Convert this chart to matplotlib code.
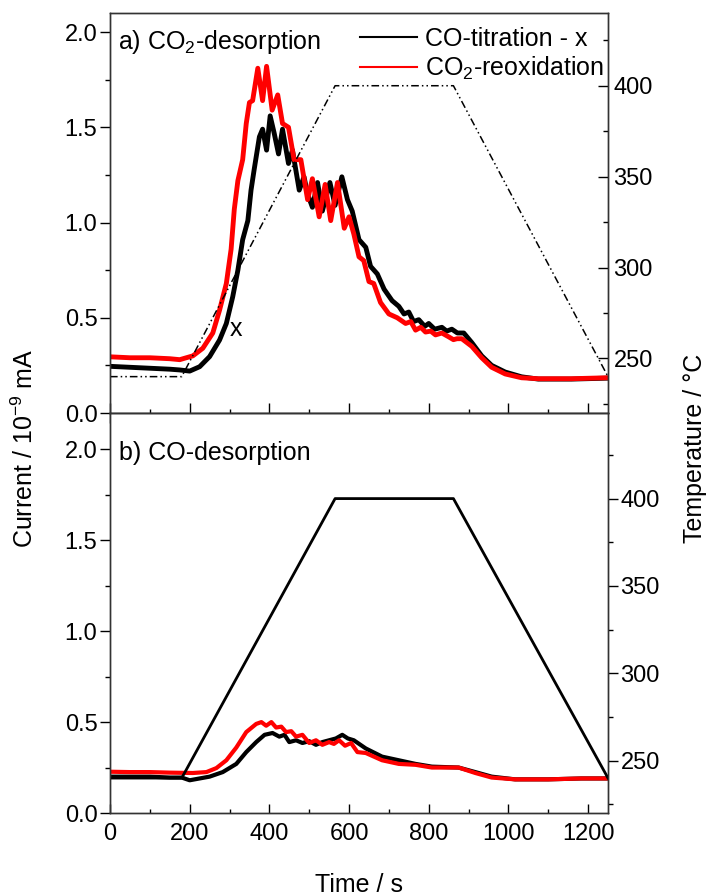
import matplotlib
matplotlib.use("Agg")
import matplotlib.pyplot as plt
from matplotlib.lines import Line2D
from matplotlib.ticker import MultipleLocator

plt.rcParams['font.family'] = ['Liberation Sans', 'DejaVu Sans']
plt.rcParams['mathtext.fontset'] = 'custom'
plt.rcParams['mathtext.rm'] = 'Liberation Sans'
plt.rcParams['mathtext.it'] = 'Liberation Sans:italic'

# temperature program (same in both panels)
t_temp = [0, 180, 565, 862, 1250]
temp = [240, 240, 400, 400, 240]

# a) CO2-desorption, CO-titration - x (black)
t_co_a = [0, 50, 100, 150, 175, 200, 225, 250, 275, 292, 308, 321, 333, 346, 354, 362,
          375, 383, 393, 402, 412, 423, 433, 448, 458, 475, 487, 496, 508, 521, 533, 552,
          565, 582, 596, 608, 625, 642, 654, 671, 688, 708, 725, 738, 750, 762, 775, 790,
          800, 815, 833, 845, 858, 872, 888, 908, 933, 958, 992, 1033, 1075, 1158, 1250]
i_co_a = [0.245, 0.24, 0.235, 0.23, 0.226, 0.22, 0.243, 0.296, 0.383, 0.47, 0.61, 0.75,
          0.91, 1.01, 1.17, 1.28, 1.45, 1.49, 1.38, 1.56, 1.47, 1.36, 1.49, 1.31, 1.38,
          1.17, 1.24, 1.15, 1.08, 1.21, 1.06, 1.21, 1.09, 1.24, 1.12, 1.06, 0.91, 0.87,
          0.77, 0.73, 0.65, 0.59, 0.56, 0.52, 0.53, 0.48, 0.49, 0.455, 0.47, 0.44, 0.45,
          0.43, 0.44, 0.42, 0.42, 0.37, 0.30, 0.25, 0.215, 0.19, 0.178, 0.178, 0.183]

# a) CO2-desorption, CO2-reoxidation (red)
t_re_a = [0, 50, 100, 150, 175, 208, 233, 258, 275, 292, 304, 312, 321, 333, 342, 350,
          358, 371, 383, 393, 407, 421, 433, 448, 462, 479, 496, 508, 525, 540, 554, 571,
          588, 600, 612, 625, 637, 650, 662, 679, 700, 721, 742, 755, 767, 780, 792, 805,
          817, 833, 850, 862, 871, 883, 908, 933, 958, 992, 1033, 1075, 1158, 1250]
i_re_a = [0.295, 0.29, 0.29, 0.285, 0.28, 0.30, 0.34, 0.42, 0.54, 0.68, 0.86, 1.07,
          1.22, 1.33, 1.52, 1.63, 1.64, 1.81, 1.64, 1.82, 1.59, 1.67, 1.52, 1.50, 1.33,
          1.33, 1.12, 1.23, 1.03, 1.20, 1.01, 1.21, 0.97, 1.03, 0.94, 0.82, 0.80, 0.69,
          0.68, 0.58, 0.52, 0.50, 0.47, 0.48, 0.435, 0.45, 0.425, 0.43, 0.41, 0.42, 0.40,
          0.385, 0.39, 0.39, 0.35, 0.29, 0.24, 0.205, 0.185, 0.18, 0.18, 0.185]

# b) CO-desorption, black
t_co_b = [0, 50, 100, 150, 180, 200, 250, 283, 317, 342, 367, 388, 408, 425, 438, 450,
          467, 483, 500, 517, 533, 550, 567, 583, 597, 612, 642, 683, 725, 767, 808, 875,
          917, 958, 1017, 1100, 1183, 1250]
i_co_b = [0.20, 0.20, 0.20, 0.195, 0.195, 0.18, 0.20, 0.225, 0.27, 0.335, 0.39, 0.43,
          0.44, 0.42, 0.43, 0.39, 0.40, 0.385, 0.395, 0.375, 0.39, 0.40, 0.41, 0.43, 0.41,
          0.40, 0.355, 0.31, 0.29, 0.27, 0.255, 0.25, 0.225, 0.20, 0.185, 0.185, 0.19, 0.19]

# b) CO-desorption, red
t_re_b = [0, 50, 100, 150, 208, 242, 267, 292, 317, 342, 367, 380, 392, 405, 417, 430,
          442, 455, 467, 483, 500, 517, 533, 550, 562, 575, 590, 605, 621, 642, 683, 725,
          767, 808, 875, 917, 958, 1017, 1100, 1183, 1250]
i_re_b = [0.227, 0.225, 0.225, 0.222, 0.22, 0.225, 0.247, 0.29, 0.36, 0.445, 0.49, 0.50,
          0.48, 0.50, 0.47, 0.475, 0.445, 0.45, 0.42, 0.43, 0.385, 0.40, 0.375, 0.39, 0.38,
          0.40, 0.37, 0.385, 0.335, 0.33, 0.29, 0.27, 0.265, 0.25, 0.25, 0.22, 0.195,
          0.185, 0.185, 0.19, 0.19]

fig = plt.figure(figsize=(7.1, 8.96), dpi=100)
ax1 = fig.add_axes([110/710, 1-413/896, 498/710, 400/896])
ax2 = fig.add_axes([110/710, 1-813/896, 498/710, 400/896])

ax1.plot(t_co_a, i_co_a, color='black', lw=3.5)
ax1.plot(t_re_a, i_re_a, color='red', lw=3.5)
ax2.plot(t_co_b, i_co_b, color='black', lw=3)
ax2.plot(t_re_b, i_re_b, color='red', lw=3)

ax1t = ax1.twinx()
ax1t.plot(t_temp, temp, color='black', lw=1.1, ls=(0, (5, 2, 1, 2, 1, 2)))
ax2t = ax2.twinx()
ax2t.plot(t_temp, temp, color='black', lw=2)

for ax in (ax1, ax2):
    ax.set_xlim(0, 1250)
    ax.xaxis.set_major_locator(MultipleLocator(200))
    ax.xaxis.set_minor_locator(MultipleLocator(100))
    ax.yaxis.set_major_locator(MultipleLocator(0.5))
    ax.yaxis.set_minor_locator(MultipleLocator(0.25))
    ax.tick_params(axis='y', which='major', direction='out', length=7, width=1,
                   labelsize=17, pad=2)
    ax.tick_params(axis='y', which='minor', direction='out', length=3.6, width=1)
for ax in (ax1t, ax2t):
    ax.yaxis.set_major_locator(MultipleLocator(50))
    ax.yaxis.set_minor_locator(MultipleLocator(25))

ax1.set_ylim(0, 2.1)
ax2.set_ylim(0, 2.2)
ax1t.set_ylim(220, 440)
ax2t.set_ylim(220, 449)

ax1.tick_params(axis='x', which='major', direction='inout', length=13.7, width=1,
                labelbottom=False)
ax1.tick_params(axis='x', which='minor', direction='inout', length=5.8, width=1)
ax2.tick_params(axis='x', which='major', direction='in', length=6.7, width=1,
                labelsize=17, pad=7)
ax2.tick_params(axis='x', which='minor', direction='in', length=3.1, width=1)

ax1t.tick_params(axis='y', which='major', direction='in', length=7, width=1,
                 labelsize=17, pad=4)
ax1t.tick_params(axis='y', which='minor', direction='in', length=3.6, width=1)
ax2t.tick_params(axis='y', which='major', direction='out', length=7, width=1,
                 labelsize=17, pad=2)
ax2t.tick_params(axis='y', which='minor', direction='out', length=3.6, width=1)

for ax in (ax1, ax2, ax1t, ax2t):
    for sp in ax.spines.values():
        sp.set_linewidth(1)
        sp.set_color('#333333')

ax1.text(0.016, 0.9275, "a) CO$_2$-desorption", transform=ax1.transAxes,
         fontsize=18, va='center', ha='left')
ax2.text(0.018, 0.9, "b) CO-desorption", transform=ax2.transAxes,
         fontsize=18, va='center', ha='left')
ax1.text(317, 0.44, "x", fontsize=18, va='center', ha='center')

handles = [Line2D([], [], color='black', lw=1.5), Line2D([], [], color='red', lw=1.5)]
ax1.legend(handles, ["CO-titration - x", "CO$_2$-reoxidation"], loc='upper right',
           bbox_to_anchor=(1.0, 0.975), frameon=False, fontsize=18, handlelength=2.3,
           handletextpad=0.3, borderaxespad=0.05, labelspacing=0.15, borderpad=0.1)

fig.text(25/710, 0.5, "Current / 10$^{-9}$ mA", rotation=90, fontsize=18,
         ha='center', va='center')
fig.text(695/710, 0.5, "Temperature / °C", rotation=90, fontsize=18,
         ha='center', va='center')
fig.text(359/710, 1-885/896, "Time / s", fontsize=18, ha='center', va='center')

fig.savefig("out.png", dpi=100)
